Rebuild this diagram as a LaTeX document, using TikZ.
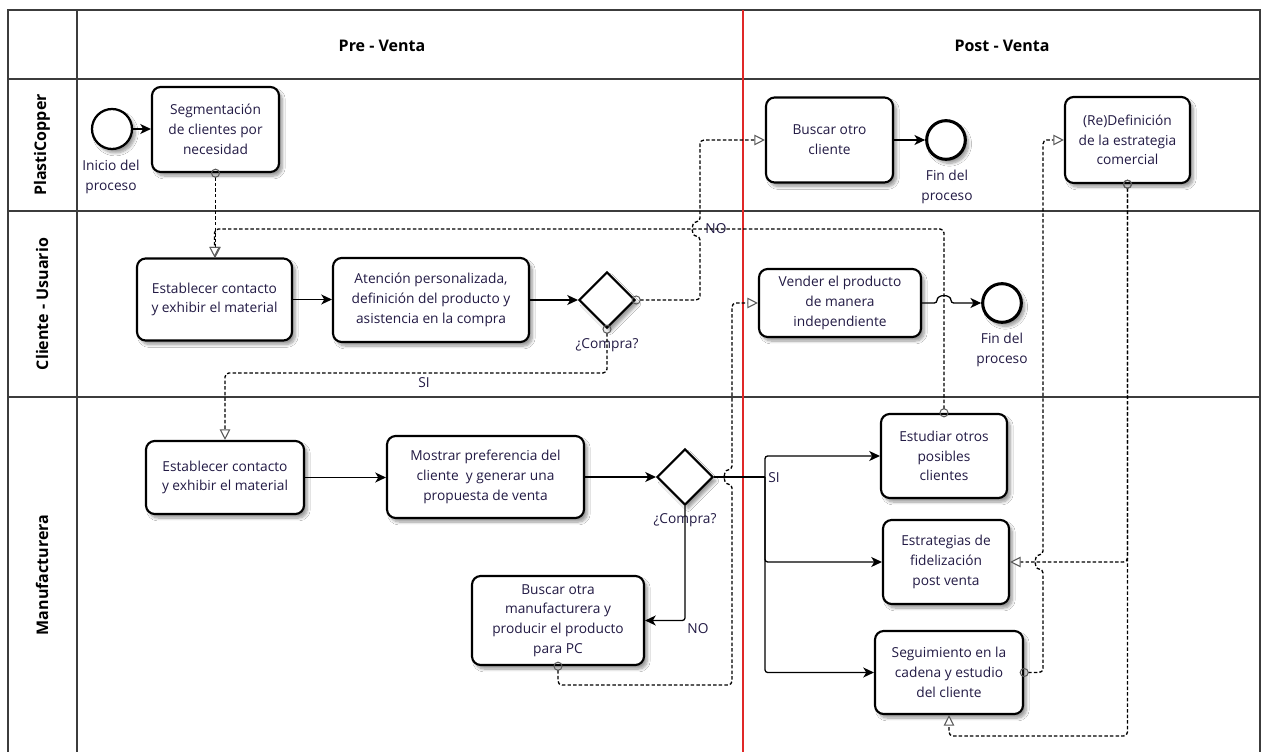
\documentclass[tikz,border=0pt]{standalone}
\usepackage{fontspec}
\setmainfont{Open Sans}
\usetikzlibrary{arrows.meta,shapes.geometric,shadows.blur}
\definecolor{ink}{HTML}{221A44}
\definecolor{rulecol}{HTML}{3C3C3C}
\definecolor{tipgray}{HTML}{5A5A5A}
\definecolor{divider}{HTML}{E02828}
\begin{document}
\begin{tikzpicture}[x=0.75pt,y=-0.75pt,
  font=\fontsize{10.3}{14.8}\selectfont, text=ink,
  wh/.style 2 args={minimum width=#1*0.75pt, minimum height=#2*0.75pt},
  soft/.style={blur shadow={shadow xshift=2.5pt, shadow yshift=-3pt, shadow blur steps=8, shadow opacity=40}},
  task/.style={draw=black, line width=1.6pt, rounded corners=6.5pt, fill=white,
    align=center, inner sep=0pt, soft},
  gate/.style={diamond, draw=black, line width=1.6pt, fill=white, inner sep=0pt,
    minimum width=42pt, minimum height=42pt, soft},
  endev/.style={circle, draw=black, line width=2.3pt, fill=white, inner sep=0pt,
    minimum size=29pt, soft},
  startev/.style={circle, draw=black, line width=1.7pt, fill=white, inner sep=0pt,
    minimum size=30pt, soft},
  lbl/.style={align=center, inner sep=0pt},
  head/.style={font=\fontsize{12}{14}\selectfont\bfseries, text=black, inner sep=0pt},
  flow/.style={draw=black, line width=0.95pt, rounded corners=2pt,
    -{Stealth[length=8pt,width=7.5pt,inset=2.2pt]}},
  plain/.style={draw=black, line width=0.95pt, rounded corners=2pt},
  msg/.style={draw=black, line width=1pt, dash pattern=on 2.6pt off 1.6pt,
    rounded corners=3pt, shorten <=-3.3pt,
    {Circle[open,length=6.8pt,width=6.8pt,color=tipgray,line width=0.75pt]}-{Triangle[open,length=8pt,width=8pt,fill=white,color=tipgray,line width=0.8pt]}},
]
\useasboundingbox (0,0) rectangle (1261,752);
\clip (0,0) rectangle (1261,752);

% pool frame, lanes and phase divider
\fill[white] (0,0) rectangle (1261,752);
\draw[rulecol, line width=1pt] (8,10) rectangle (1260,770);
\draw[rulecol, line width=1pt] (8,79) -- (1260,79);
\draw[rulecol, line width=1pt] (8,211) -- (1260,211);
\draw[rulecol, line width=1pt] (8,397) -- (1260,397);
\draw[rulecol, line width=1pt] (77,10) -- (77,770);
\draw[divider, line width=0.8pt] (743,10) -- (743,770);

\node[head] (hpre) at (382,46) {Pre - Venta};
\node[head] (hpost) at (1002,46) {Post - Venta};
\node[head, rotate=90] (lpc) at (42,145) {PlastiCopper};
\node[head, rotate=90] (lcu) at (42,304) {Cliente - Usuario};
\node[head, rotate=90] (lmf) at (42,575) {Manufacturera};

% PlastiCopper lane
\node[startev] (start) at (112,129) {};
\node[lbl] (startl) at (111,177) {Inicio del\\proceso};
\node[task, wh={127}{85}] (seg) at (215.5,129.5) {Segmentación\\de clientes por\\necesidad};
\node[task, wh={127}{85}] (busC) at (829.5,140) {Buscar otro\\cliente};
\node[endev] (fin1) at (946,140) {};
\node[lbl] (fin1l) at (947,187) {Fin del\\proceso};
\node[task, wh={125}{86}] (redef) at (1127.5,140) {(Re)Definición\\de la estrategia\\comercial};

% Cliente - Usuario lane
\node[task, wh={155}{82}] (estC) at (214.5,299.5) {Establecer contacto\\y exhibir el material};
\node[task, wh={196}{84}] (aten) at (431,300) {Atención personalizada,\\definición del producto y\\asistencia en la compra};
\node[gate] (gwC) at (607,300) {};
\node[lbl] (gwCl) at (607,345) {¿Compra?};
\node[task, wh={162}{68}] (vender) at (840,303) {Vender el producto\\de manera\\independiente};
\node[endev] (fin2) at (1002,303) {};
\node[lbl] (fin2l) at (1002,350) {Fin del\\proceso};

% Manufacturera lane
\node[task, wh={158}{73}] (estM) at (225,477.5) {Establecer contacto\\y exhibir el material};
\node[task, wh={197}{82}] (mostrar) at (485.5,477) {Mostrar preferencia del\\cliente~ y generar una\\propuesta de venta};
\node[gate] (gwM) at (685,477) {};
\node[lbl] (gwMl) at (685,520) {¿Compra?};
\node[task, wh={172}{89}] (busM) at (558,620.5) {Buscar otra\\manufacturera y\\producir el producto\\para PC};
\node[task, wh={126}{84}] (estudiar) at (944,456) {Estudiar otros\\posibles\\clientes};
\node[task, wh={126}{84}] (estrat) at (946,562) {Estrategias de\\fidelización\\post venta};
\node[task, wh={148}{83}] (seguim) at (949,672.5) {Seguimiento en la\\cadena y estudio\\del cliente};

% sequence flows
\draw[flow] (start.east) -- (start.east -| seg.west);
\draw[flow] (estC.east) -- (estC.east -| aten.west);
\draw[flow] (aten.east) -- (gwC.west);
\draw[flow] (estM.east) -- (estM.east -| mostrar.west);
\draw[flow] (mostrar.east) -- (mostrar.east -| gwM.west);
\draw[flow] (gwM.south) |- (busM.east);
\coordinate (br) at (765,477);
\draw[plain] (gwM.east) -- (br);
\draw[flow] (br) |- (estudiar.west);
\draw[flow] (br) |- (estrat.west);
\draw[flow] (br) |- (seguim.west);
\draw[flow] (busC.east) -- (fin1.west);
\draw[flow] (vender.east) -- (937,303) .. controls (937,294) and (951,294) .. (951,303) -- (fin2.west);
\node[lbl, anchor=west] (siM) at (768,478) {SI};
\node[lbl] (noM) at (698,629) {NO};

% message flows
\draw[msg] (seg.south) -- (seg.south |- estC.north);
\draw[msg] (gwC.east) -- (700,300) -- (700,236)
  .. controls (691,236) and (691,222) .. (700,222) |- (busC.west);
\node[lbl] (noC) at (716,229) {NO};
\draw[msg] (gwC.south) -- (607,373) -| (estM.north);
\node[lbl] (siC) at (424,383) {SI};
\draw[msg] (estudiar.north) -- (944,229) -| (estC.north);
\draw[msg] (busM.south) -- (558,685) -- (732,685) -- (732,484)
  .. controls (723,484) and (723,470) .. (732,470) |- (vender.west);
\draw[msg] (seguim.east) -- (1043,672.5) -- (1043,569)
  .. controls (1034,569) and (1034,555) .. (1043,555) |- (redef.west);
\draw[msg] (redef.south) |- (estrat.east);
\draw[msg] (redef.south) -- (1127.5,736) -| (seguim.south);
\end{tikzpicture}
\end{document}
